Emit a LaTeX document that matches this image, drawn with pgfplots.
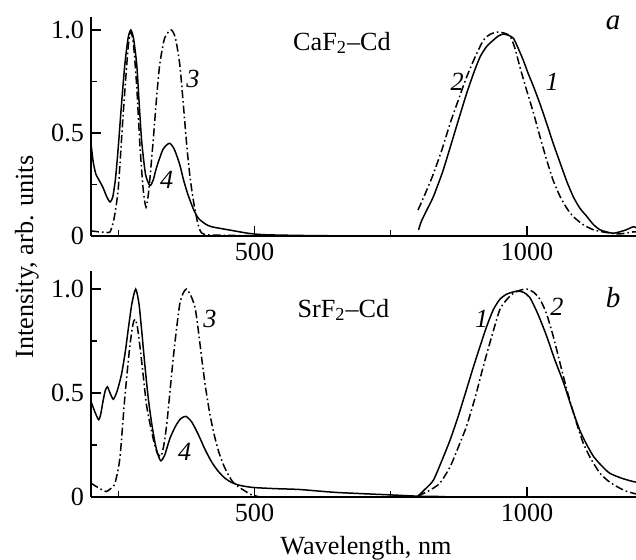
\documentclass[border=0pt]{standalone}
\usepackage{fontspec}
\setmainfont{Liberation Serif}
\usepackage{pgfplots}
\pgfplotsset{compat=1.18}
\newcommand\ff{\fontsize{13.1}{15.5}\selectfont}

\pgfplotsset{
  panel/.style={
    scale only axis, width=272.5pt,
    xmin=200, xmax=1200, ymin=0,
    axis lines=left, axis line style={-, line width=0.9pt},
    tick align=inside, major tick length=5pt, minor tick length=3pt,
    tick style={line width=0.6pt, black},
    xtick={500,1000}, xticklabels={500,1000}, minor xtick={250,750},
    ytick={0,0.5,1}, yticklabels={0,0.5,1.0}, minor ytick={0.25,0.75},
    tick label style={font=\ff},
    /pgf/number format/assume math mode=true,
    clip mode=individual,
    no marks,
    every axis plot/.append style={line width=0.75pt, black, smooth, tension=0.4},
  },
  sl/.style={solid},
  dd/.style={dash pattern=on 4pt off 1.5pt on 0.8pt off 1.5pt},
}

\begin{document}
\begin{tikzpicture}
\useasboundingbox (0,0) rectangle (318pt,280pt);

% a: CaF2-Cd
\begin{axis}[panel, at={(45.5pt,162pt)}, anchor=south west, height=109.5pt, ymax=1.063]
% 4 - excitation (solid)
\addplot[sl] coordinates {
 (200,0.45) (204,0.36) (209,0.30) (215,0.27) (222,0.235) (229,0.19) (235,0.165)
 (240,0.19) (245,0.28) (250,0.43) (256,0.64) (262,0.83) (268,0.96) (273,1.0)
 (278,0.96) (284,0.83) (288,0.66) (293,0.46) (300,0.30) (308,0.245) (314,0.27)
 (320,0.33) (332,0.42) (344,0.45) (353,0.42) (363,0.345) (370,0.27) (378,0.2)
 (388,0.13) (397,0.086) (410,0.058) (421,0.045) (452,0.03) (489,0.013)
 (520,0.006) (600,0.002) (700,0.0)
};
% 3 - excitation (dash-dot)
\addplot[dd] coordinates {
 (200,0.025) (215,0.02) (228,0.018) (235,0.02) (242,0.08) (250,0.23) (259,0.59)
 (268,0.91) (273,0.99) (278,0.93) (284,0.72) (290,0.43) (296,0.22) (301,0.14)
 (306,0.22) (314,0.46) (320,0.66) (326,0.83) (335,0.96) (347,1.0) (355,0.96)
 (363,0.83) (370,0.62) (376,0.43) (382,0.28) (388,0.17) (396,0.06) (403,0.015)
 (420,0.005) (520,0.0)
};
% 1 - emission (solid)
\addplot[sl] coordinates {
 (801,0.03) (806,0.07) (815,0.12) (828,0.19) (845,0.31) (859,0.43) (875,0.57)
 (889,0.69) (902,0.79) (914,0.87) (926,0.92) (938,0.95) (947,0.97) (956,0.98)
 (965,0.975) (975,0.96) (984,0.91) (993,0.854) (1002,0.79) (1012,0.725)
 (1024,0.64) (1036,0.547) (1048,0.45) (1061,0.353) (1073,0.265) (1085,0.19)
 (1097,0.135) (1110,0.094) (1122,0.055) (1134,0.03) (1146,0.02) (1158,0.013)
 (1170,0.02) (1182,0.03) (1195,0.045) (1200,0.04)
};
% 2 - emission (dash-dot)
\addplot[dd] coordinates {
 (800,0.126) (814,0.21) (828,0.30) (844,0.42) (859,0.547) (874,0.66) (889,0.77)
 (905,0.87) (920,0.95) (933,0.98) (947,0.99) (958,0.985) (969,0.97) (978,0.91)
 (987,0.82) (999,0.71) (1012,0.596) (1024,0.48) (1036,0.37) (1048,0.27)
 (1061,0.19) (1073,0.135) (1085,0.094) (1103,0.055) (1122,0.03) (1145,0.017)
 (1170,0.01) (1195,0.02) (1200,0.02)
};
\node[font=\ff, anchor=west] at (axis cs:558,0.937) {CaF\textsubscript{2}–Cd};
\node[font=\fontsize{14.5}{17}\selectfont\itshape] at (axis cs:1158,1.034) {a};
\node[font=\ff\itshape] at (axis cs:387,0.76) {3};
\node[font=\ff\itshape] at (axis cs:339,0.272) {4};
\node[font=\ff\itshape] at (axis cs:872,0.75) {2};
\node[font=\ff\itshape] at (axis cs:1046,0.75) {1};
\end{axis}

% b: SrF2-Cd
\begin{axis}[panel, at={(45.5pt,31.5pt)}, anchor=south west, height=113pt, ymax=1.087]
% 4 - excitation (solid)
\addplot[sl] coordinates {
 (200,0.46) (207,0.41) (214,0.372) (218,0.40) (222,0.46) (226,0.51) (230,0.53)
 (235,0.50) (241,0.47) (248,0.51) (256,0.59) (263,0.70) (268,0.80) (275,0.93)
 (282,1.0) (288,0.93) (293,0.80) (299,0.63) (305,0.477) (311,0.36) (317,0.267)
 (322,0.21) (328,0.174) (335,0.20) (345,0.283) (355,0.34) (364,0.375)
 (374,0.388) (385,0.36) (397,0.30) (409,0.23) (421,0.17) (433,0.125) (446,0.09)
 (458,0.07) (470,0.058) (485,0.05) (501,0.045) (540,0.04) (583,0.036)
 (650,0.022) (750,0.01) (800,0.004) (850,0.002)
};
% 3 - excitation (dash-dot)
\addplot[dd] coordinates {
 (200,0.066) (210,0.05) (220,0.035) (228,0.026) (236,0.04) (244,0.066)
 (253,0.187) (262,0.477) (271,0.72) (277,0.83) (281,0.855) (285,0.82) (290,0.72)
 (296,0.58) (302,0.44) (310,0.33) (317,0.25) (322,0.21) (328,0.195) (333,0.24)
 (339,0.35) (345,0.51) (351,0.67) (357,0.81) (363,0.93) (369,0.98) (375,1.0)
 (383,0.97) (391,0.91) (397,0.8) (403,0.67) (410,0.53) (418,0.40) (426,0.30)
 (434,0.22) (443,0.155) (452,0.106) (461,0.07) (470,0.05) (483,0.028)
 (495,0.01) (510,0.0)
};
% 1 - emission (solid)
\addplot[sl] coordinates {
 (800,0.005) (814,0.04) (828,0.08) (843,0.17) (859,0.275) (874,0.39) (889,0.517)
 (901,0.62) (914,0.726) (926,0.82) (938,0.90) (950,0.95) (963,0.976) (981,0.99)
 (993,0.985) (1005,0.96) (1020,0.88) (1036,0.774) (1051,0.66) (1067,0.55)
 (1082,0.43) (1097,0.32) (1110,0.25) (1122,0.195) (1137,0.15) (1152,0.114)
 (1174,0.09) (1195,0.074) (1200,0.072)
};
% 2 - emission (dash-dot)
\addplot[dd] coordinates {
 (800,0.005) (820,0.03) (840,0.066) (859,0.146) (874,0.24) (889,0.34) (905,0.48)
 (920,0.63) (935,0.77) (950,0.90) (963,0.95) (975,0.98) (988,0.995) (1000,1.0)
 (1012,0.985) (1024,0.95) (1036,0.88) (1048,0.774) (1060,0.65) (1073,0.517)
 (1088,0.38) (1103,0.26) (1118,0.18) (1134,0.114) (1150,0.075) (1165,0.05)
 (1180,0.03) (1195,0.018) (1200,0.015)
};
\node[font=\ff, anchor=west] at (axis cs:566,0.90) {SrF\textsubscript{2}–Cd};
\node[font=\fontsize{14.5}{17}\selectfont\itshape] at (axis cs:1158,0.96) {b};
\node[font=\ff\itshape] at (axis cs:418,0.855) {3};
\node[font=\ff\itshape] at (axis cs:372,0.217) {4};
\node[font=\ff\itshape] at (axis cs:917,0.855) {1};
\node[font=\ff\itshape] at (axis cs:1055,0.913) {2};
\end{axis}

\node[font=\ff, rotate=90, anchor=base] at (16.5pt,151.5pt) {Intensity, arb. units};
\node[font=\ff, anchor=base] at (183pt,2.5pt) {Wavelength, nm};
\end{tikzpicture}
\end{document}
